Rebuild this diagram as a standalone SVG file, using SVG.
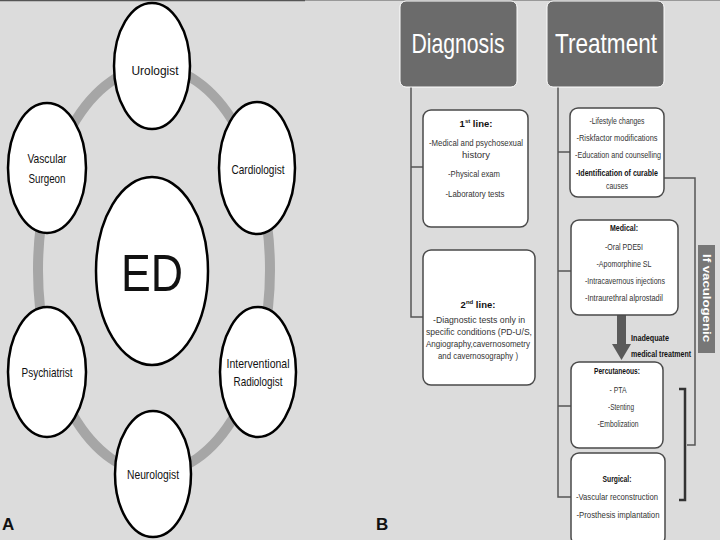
<svg xmlns="http://www.w3.org/2000/svg" width="720" height="540" viewBox="0 0 720 540">
<style>
.bg{fill:#dcdcdc}
.ell{fill:#fff;stroke:#000;stroke-width:2.5}
.lab{font-family:"Liberation Sans",Arial,sans-serif;font-size:13px;fill:#111;text-anchor:middle}
.hdr{fill:#6b6b6b;stroke:#fff;stroke-width:1}
.hdrt{font-family:"Liberation Sans",Arial,sans-serif;font-size:28px;fill:#fff;text-anchor:middle}
.box{fill:#fff;stroke:#4a4a4a;stroke-width:1.5}
.bt{font-family:"Liberation Sans",Arial,sans-serif;font-size:9.5px;fill:#333;text-anchor:middle}
.bb{font-weight:bold;fill:#111}
.st{text-anchor:start}
.con{fill:none;stroke:#555;stroke-width:1.5}
.pl{font-family:"Liberation Sans",Arial,sans-serif;font-size:17px;font-weight:bold;fill:#111}
</style>
<rect class="bg" x="0" y="0" width="720" height="540"/>
<line x1="0" y1="0.5" x2="305" y2="0.5" stroke="#555" stroke-width="1.5"/>
<line x1="305" y1="0.5" x2="720" y2="0.5" stroke="#999" stroke-width="1"/>

<g id="connectors">
  <ellipse cx="154" cy="270" rx="116" ry="203" fill="none" stroke="#a6a6a6" stroke-width="10"/>
  <path class="con" d="M411,87 V317 H425 M411,167 H423"/>
  <path class="con" d="M558,87 V497 H571 M558,152 H570 M558,271 H571 M558,406 H571"/>
  <path class="con" d="M664,178 H695 V445 H687"/>
  <path d="M679,389 H685 V500 H679" fill="none" stroke="#333" stroke-width="2.5"/>
  <path d="M617,315 H626 V344 H631 L621.5,360 L612,344 H617 Z" fill="#5a5a5a"/>
  <text class="bt bb st" x="631" y="341" textLength="38" lengthAdjust="spacingAndGlyphs">Inadequate</text>
  <text class="bt bb st" x="631" y="357" textLength="60" lengthAdjust="spacingAndGlyphs">medical treatment</text>
</g>

<g id="ED">
  <ellipse class="ell" cx="152" cy="271" rx="56" ry="94"/>
  <text class="lab" x="152" y="291" style="font-size:52px" textLength="62" lengthAdjust="spacingAndGlyphs">ED</text>
</g>
<g id="urologist">
  <ellipse class="ell" cx="152" cy="66" rx="38" ry="63"/>
  <text class="lab" x="155" y="75" textLength="47" lengthAdjust="spacingAndGlyphs">Urologist</text>
</g>
<g id="cardiologist">
  <ellipse class="ell" cx="257" cy="168" rx="38" ry="66"/>
  <text class="lab" x="258" y="174" textLength="53" lengthAdjust="spacingAndGlyphs">Cardiologist</text>
</g>
<g id="radiologist">
  <ellipse class="ell" cx="258" cy="372" rx="38" ry="65"/>
  <text class="lab" x="258" y="368" textLength="63" lengthAdjust="spacingAndGlyphs">Interventional</text>
  <text class="lab" x="258" y="386" textLength="49" lengthAdjust="spacingAndGlyphs">Radiologist</text>
</g>
<g id="neurologist">
  <ellipse class="ell" cx="153" cy="474" rx="38" ry="63"/>
  <text class="lab" x="153" y="479" textLength="52" lengthAdjust="spacingAndGlyphs">Neurologist</text>
</g>
<g id="psychiatrist">
  <ellipse class="ell" cx="47" cy="372" rx="39" ry="65"/>
  <text class="lab" x="47" y="377" textLength="51" lengthAdjust="spacingAndGlyphs">Psychiatrist</text>
</g>
<g id="vascular-surgeon">
  <ellipse class="ell" cx="47" cy="168" rx="39" ry="65"/>
  <text class="lab" x="47" y="163" textLength="39" lengthAdjust="spacingAndGlyphs">Vascular</text>
  <text class="lab" x="47" y="183" textLength="37" lengthAdjust="spacingAndGlyphs">Surgeon</text>
</g>
<text class="pl" x="2" y="530">A</text>
<text class="pl" x="376" y="530">B</text>

<g id="diagnosis">
  <rect class="hdr" x="400" y="1" width="117" height="86" rx="6"/>
  <text class="hdrt" x="458" y="53" textLength="93" lengthAdjust="spacingAndGlyphs">Diagnosis</text>
</g>
<g id="treatment">
  <rect class="hdr" x="547" y="1" width="117" height="86" rx="6"/>
  <text class="hdrt" x="606" y="53" textLength="102" lengthAdjust="spacingAndGlyphs">Treatment</text>
</g>
<g id="first-line">
  <rect class="box" x="423" y="110" width="105" height="117" rx="8"/>
  <text class="bt bb" x="476" y="127">1<tspan font-size="6" dy="-4">st</tspan><tspan dy="4"> line:</tspan></text>
  <text class="bt" x="476" y="146" textLength="94" lengthAdjust="spacingAndGlyphs">-Medical  and psychosexual</text>
  <text class="bt" x="476" y="158">history</text>
  <text class="bt" x="474" y="177" textLength="52" lengthAdjust="spacingAndGlyphs">-Physical exam</text>
  <text class="bt" x="475" y="197" textLength="59" lengthAdjust="spacingAndGlyphs">-Laboratory tests</text>
</g>
<g id="second-line">
  <rect class="box" x="423" y="250" width="112" height="135" rx="8"/>
  <text class="bt bb" x="478" y="308">2<tspan font-size="6" dy="-4">nd</tspan><tspan dy="4"> line:</tspan></text>
  <text class="bt" x="479" y="323" textLength="92" lengthAdjust="spacingAndGlyphs">-Diagnostic tests only in</text>
  <text class="bt" x="479" y="335" textLength="106" lengthAdjust="spacingAndGlyphs">specific conditions (PD-U/S,</text>
  <text class="bt" x="478" y="347" textLength="104" lengthAdjust="spacingAndGlyphs">Angiography,cavernosometry</text>
  <text class="bt" x="478" y="359" textLength="80" lengthAdjust="spacingAndGlyphs">and cavernosography )</text>
</g>
<g id="lifestyle">
  <rect class="box" x="570" y="108" width="94" height="89" rx="8"/>
  <text class="bt" x="617" y="124" textLength="55" lengthAdjust="spacingAndGlyphs">-Lifestyle changes</text>
  <text class="bt" x="617" y="141" textLength="81" lengthAdjust="spacingAndGlyphs">-Riskfactor modifications</text>
  <text class="bt" x="618" y="158" textLength="86" lengthAdjust="spacingAndGlyphs">-Education and counselling</text>
  <text class="bt bb" x="617" y="176" textLength="82" lengthAdjust="spacingAndGlyphs">-Identification of curable</text>
  <text class="bt" x="617" y="189" textLength="22" lengthAdjust="spacingAndGlyphs">causes</text>
</g>
<g id="medical">
  <rect class="box" x="571" y="220" width="107" height="95" rx="8"/>
  <text class="bt bb" x="624" y="231" textLength="28" lengthAdjust="spacingAndGlyphs">Medical:</text>
  <text class="bt" x="624" y="250" textLength="38" lengthAdjust="spacingAndGlyphs">-Oral PDE5I</text>
  <text class="bt" x="624" y="267" textLength="55" lengthAdjust="spacingAndGlyphs">-Apomorphine SL</text>
  <text class="bt" x="625" y="284" textLength="80" lengthAdjust="spacingAndGlyphs">-Intracavernous injections</text>
  <text class="bt" x="624" y="301" textLength="78" lengthAdjust="spacingAndGlyphs">-Intraurethral alprostadil</text>
</g>
<g id="percutaneous">
  <rect class="box" x="571" y="362" width="92" height="86" rx="8"/>
  <text class="bt bb" x="617" y="374" textLength="46" lengthAdjust="spacingAndGlyphs">Percutaneous:</text>
  <text class="bt" x="618" y="393" textLength="17" lengthAdjust="spacingAndGlyphs">- PTA</text>
  <text class="bt" x="621" y="410" textLength="26" lengthAdjust="spacingAndGlyphs">-Stenting</text>
  <text class="bt" x="618" y="427" textLength="41" lengthAdjust="spacingAndGlyphs">-Embolization</text>
</g>
<g id="surgical">
  <rect class="box" x="571" y="453" width="94" height="92" rx="8"/>
  <text class="bt bb" x="617" y="482" textLength="29" lengthAdjust="spacingAndGlyphs">Surgical:</text>
  <text class="bt" x="617" y="500" textLength="82" lengthAdjust="spacingAndGlyphs">-Vascular reconstruction</text>
  <text class="bt" x="618" y="518" textLength="83" lengthAdjust="spacingAndGlyphs">-Prosthesis implantation</text>
</g>
<g id="if-vasculogenic">
  <rect x="698" y="245" width="17" height="108" fill="#777"/>
  <text transform="translate(702.5,298) rotate(90)" font-family="'Liberation Sans',Arial,sans-serif" font-size="11" font-weight="bold" fill="#fff" text-anchor="middle" textLength="88" lengthAdjust="spacingAndGlyphs">If vaculogenic</text>
</g>
</svg>
